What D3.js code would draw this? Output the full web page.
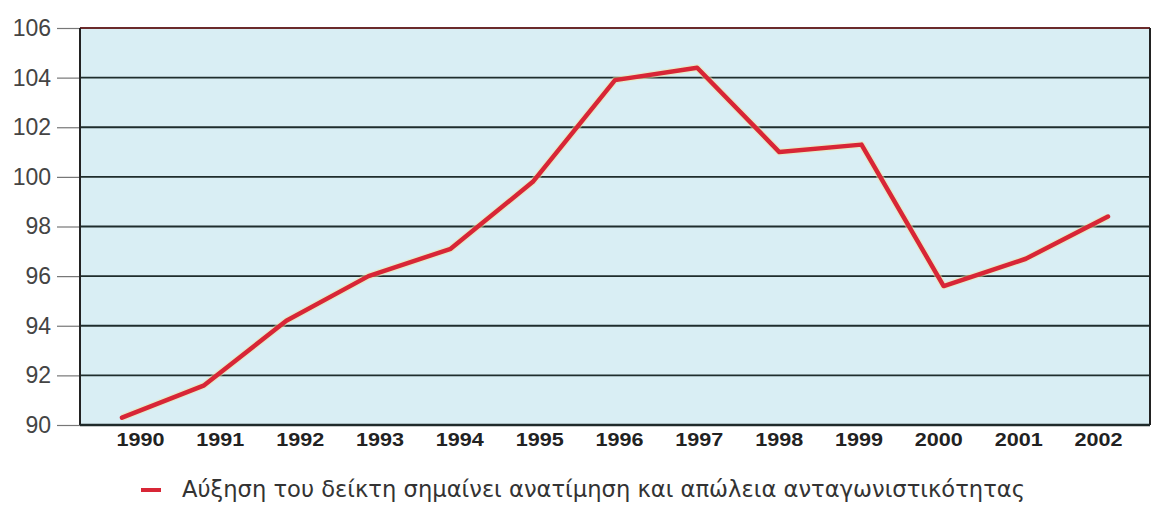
<!DOCTYPE html>
<html><head><meta charset="utf-8">
<script src="https://cdn.jsdelivr.net/npm/d3@7"></script>
<style>body{margin:0;background:#fff}svg{display:block}</style>
</head><body>
<svg id="c" width="1166" height="508"></svg>
<script>
const years = [1990,1991,1992,1993,1994,1995,1996,1997,1998,1999,2000,2001,2002];
const values = [90.3,91.6,94.2,96.0,97.1,99.8,103.9,104.4,101.0,101.3,95.6,96.7,98.4];
const yTicks = [90,92,94,96,98,100,102,104,106];
const legendText = "Αύξηση του δείκτη σημαίνει ανατίμηση και απώλεια ανταγωνιστικότητας";

const svg = d3.select("#c");
const L = 80, R = 1150, T = 28, B = 425;

const y = d3.scaleLinear().domain([90,106]).range([B,T]);
const xLabel = d3.scalePoint().domain(years).range([140,1098]);
const xLine = d3.scalePoint().domain(years).range([122,1108]);

svg.append("rect").attr("x",L).attr("y",T).attr("width",R-L).attr("height",B-T)
  .attr("fill","#d9eef4");

// gridlines
svg.append("g").selectAll("line").data(yTicks.filter(d=>d>90 && d<106)).join("line")
  .attr("x1",L).attr("x2",R).attr("y1",d=>y(d)).attr("y2",d=>y(d))
  .attr("stroke","#1f2d2d").attr("stroke-width",1.8);

// y axis ticks and labels
const yAxis = d3.axisLeft(y).tickValues(yTicks).tickSize(23).tickPadding(6).tickFormat(d3.format("d"));
const ga = svg.append("g").attr("transform",`translate(${L},0)`).call(yAxis);
ga.select(".domain").remove();
ga.selectAll(".tick line").attr("stroke","#777").attr("stroke-width",1.2);
ga.selectAll(".tick text").attr("fill","#444").attr("font-family","Liberation Sans, Arial, sans-serif")
  .attr("font-size",23);

// frame
svg.append("line").attr("x1",L).attr("x2",R).attr("y1",T).attr("y2",T).attr("stroke","#6b2b2b").attr("stroke-width",2);
svg.append("line").attr("x1",L).attr("x2",L).attr("y1",T).attr("y2",B).attr("stroke","#222").attr("stroke-width",2);
svg.append("line").attr("x1",R).attr("x2",R).attr("y1",T).attr("y2",B).attr("stroke","#222").attr("stroke-width",2);
svg.append("line").attr("x1",L).attr("x2",R).attr("y1",B).attr("y2",B).attr("stroke","#1f2a2a").attr("stroke-width",2.6);

// x labels
const xAxis = d3.axisBottom(xLabel).tickSize(0).tickPadding(8).tickFormat(d3.format("d"));
const gx = svg.append("g").attr("transform",`translate(0,${B})`).call(xAxis);
gx.select(".domain").remove();
gx.selectAll(".tick text").attr("fill","#222").attr("font-family","Liberation Sans, Arial, sans-serif")
  .attr("font-size",19).attr("font-weight","bold")
  .attr("textLength",48).attr("lengthAdjust","spacingAndGlyphs");

// line
const line = d3.line().x((d,i)=>xLine(years[i])).y(d=>y(d));
svg.append("path").datum(values).attr("d",line).attr("fill","none")
  .attr("stroke","#f3e6a0").attr("stroke-width",7).attr("stroke-opacity",0.5).attr("stroke-linejoin","round");
svg.append("path").datum(values).attr("d",line).attr("fill","none")
  .attr("stroke","#d82636").attr("stroke-width",4.5).attr("stroke-linejoin","round").attr("stroke-linecap","round");

// legend
svg.append("line").attr("x1",141).attr("x2",161).attr("y1",490).attr("y2",490)
  .attr("stroke","#d82636").attr("stroke-width",4);
svg.append("text").attr("x",182).attr("y",497).text(legendText)
  .attr("fill","#333").attr("font-family","DejaVu Sans, sans-serif").attr("font-size",23)
  .attr("textLength",843).attr("lengthAdjust","spacingAndGlyphs");
</script>
</body></html>
